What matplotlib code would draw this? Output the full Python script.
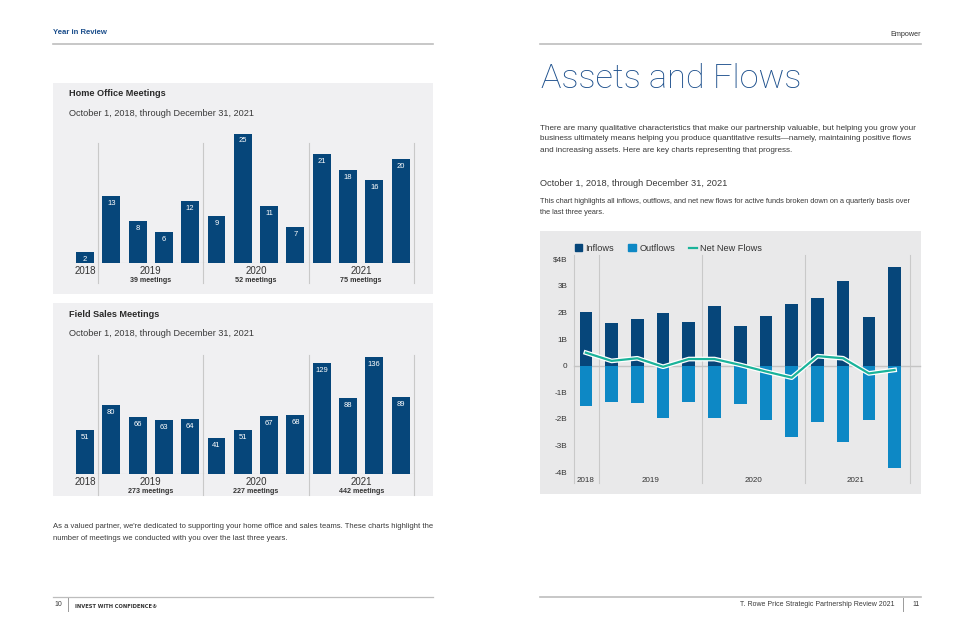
import matplotlib.pyplot as plt
from matplotlib.patches import Rectangle, Patch
from matplotlib.lines import Line2D
import matplotlib.patheffects as pe

plt.rcParams['font.family'] = ['Liberation Sans', 'DejaVu Sans']

# data
quarters = list(range(13))
home_office = [2, 13, 8, 6, 12, 9, 25, 11, 7, 21, 18, 16, 20]
field_sales = [51, 80, 66, 63, 64, 41, 51, 67, 68, 129, 88, 136, 89]
years = ['2018', '2019', '2020', '2021']
year_pos = [0, 2.5, 6.5, 10.5]
home_totals = ['', '39 meetings', '52 meetings', '75 meetings']
field_totals = ['', '273 meetings', '227 meetings', '442 meetings']
separators = [0.5, 4.5, 8.5, 12.5]

inflows = [2.02, 1.59, 1.74, 1.99, 1.63, 2.24, 1.50, 1.88, 2.31, 2.53, 3.20, 1.82, 3.72]
outflows = [-1.50, -1.38, -1.41, -1.95, -1.35, -1.95, -1.44, -2.04, -2.69, -2.13, -2.86, -2.04, -3.83]
net_flows = [0.49, 0.18, 0.28, -0.04, 0.25, 0.25, 0.03, -0.22, -0.45, 0.36, 0.28, -0.29, -0.16]
flow_ticks = [4, 3, 2, 1, 0, -1, -2, -3, -4]
flow_labels = ['$4B', '3B', '2B', '1B', '0', '-1B', '-2B', '-3B', '-4B']

NAVY = '#06467a'
LIGHT_BLUE = '#0d88c5'
TEAL = '#1ab39a'
TITLE_BLUE = '#1c4f8c'
TEXT = '#3a3a3a'
GRID = '#c9c9c9'

W, H = 975, 631
fig = plt.figure(figsize=(W / 100, H / 100), dpi=100)


def box(x0, y0, x1, y1):
    # pixel box (top-left origin) -> figure fractions
    return [x0 / W, 1 - y1 / H, (x1 - x0) / W, (y1 - y0) / H]


def ftext(x, y, s, **kw):
    kw.setdefault('color', TEXT)
    kw.setdefault('va', 'center')
    fig.text(x / W, 1 - y / H, s, **kw)


def panel(x0, y0, x1, y1, color):
    fig.add_artist(Rectangle((x0 / W, 1 - y1 / H), (x1 - x0) / W, (y1 - y0) / H,
                             transform=fig.transFigure, facecolor=color,
                             edgecolor='none', zorder=0))


def hline(x0, x1, y, lw=1.2, color='#bdbdbd'):
    fig.add_artist(Line2D([x0 / W, x1 / W], [1 - y / H, 1 - y / H],
                          transform=fig.transFigure, color=color, lw=lw))


def vline(x, y0, y1, lw=0.7, color='#9a9a9a'):
    fig.add_artist(Line2D([x / W, x / W], [1 - y0 / H, 1 - y1 / H],
                          transform=fig.transFigure, color=color, lw=lw))


# page header / footer
ftext(53, 33, 'Year in Review', fontsize=5.6, fontweight='bold', color=TITLE_BLUE)
ftext(921, 35, 'Empower', fontsize=5.2, ha='right', color='#333333')
hline(53, 433, 44)
hline(540, 921, 44)
hline(53, 433, 597, lw=0.9)
hline(540, 921, 597, lw=1.2)
ftext(54, 605, '10', fontsize=5)
vline(68, 598, 611)
ftext(75, 606, 'INVEST WITH CONFIDENCE®', fontsize=3.7, fontweight='bold', color='#333333',
      family=['DejaVu Sans'])
ftext(895, 605, 'T. Rowe Price Strategic Partnership Review 2021', fontsize=5, ha='right')
vline(903, 598, 611)
ftext(912, 605, '11', fontsize=5)

# left page text
ftext(53, 526, "As a valued partner, we're dedicated to supporting your home office and sales teams. These charts highlight the",
      fontsize=5.5)
ftext(53, 539, 'number of meetings we conducted with you over the last three years.', fontsize=5.5)

# right page text
ftext(541, 79, 'Assets and Flows', fontsize=24.7, color=TITLE_BLUE, fontweight='light',
      family=['Roboto', 'Liberation Sans'])
body = ['There are many qualitative characteristics that make our partnership valuable, but helping you grow your',
        'business ultimately means helping you produce quantitative results\u2014namely, maintaining positive flows',
        'and increasing assets. Here are key charts representing that progress.']
for i, line in enumerate(body):
    ftext(540, 128 + 11 * i, line, fontsize=5.85)
ftext(540, 183, 'October 1, 2018, through December 31, 2021', fontsize=6.65)
ftext(540, 201, 'This chart highlights all inflows, outflows, and net new flows for active funds broken down on a quarterly basis over',
      fontsize=5.3)
ftext(540, 212, 'the last three years.', fontsize=5.3)


def meetings_chart(values, totals, title, top, base, bottom, ylim, vfrac):
    panel(53, top, 433, bottom, '#f0f0f2')
    ftext(69, top + 11, title, fontsize=6.6, fontweight='bold', color='#2a2a2a')
    ftext(69, top + 30, 'October 1, 2018, through December 31, 2021', fontsize=6.6)
    ax = fig.add_axes(box(71.85, vfrac[0], 413.75, base))
    ax.set_facecolor('none')
    ax.bar(quarters, values, width=0.68, color=NAVY, zorder=3)
    for q, v in zip(quarters, values):
        ax.annotate(str(v), (q, v), xytext=(0, -4), textcoords='offset pixels',
                    ha='center', va='top', fontsize=5.5, color='white', zorder=4)
    ax.set_xlim(-0.5, 12.5)
    ax.set_ylim(0, ylim)
    ax.axhline(0, color='#bdbdbd', lw=0.8, zorder=2)
    height = base - vfrac[0]
    for s in separators:
        ax.axvline(s, ymin=-(vfrac[2] - base) / height, ymax=(base - vfrac[1]) / height,
                   color=GRID, lw=0.8, clip_on=False, zorder=1)
    for p, yr, tot in zip(year_pos, years, totals):
        ax.annotate(yr, (p, 0), xytext=(0, -8), textcoords='offset pixels',
                    ha='center', va='center', fontsize=7.0, color='#333333')
        ax.annotate(tot, (p, 0), xytext=(0, -17.5), textcoords='offset pixels',
                    ha='center', va='center', fontsize=5.1, fontweight='bold', color='#333333')
    ax.axis('off')
    return ax


# (axes top, separator top, separator bottom) in pixels
meetings_chart(home_office, home_totals, 'Home Office Meetings', 83, 262.7, 294, 25,
               (133.5, 143, 283))
meetings_chart(field_sales, field_totals, 'Field Sales Meetings', 303, 473.7, 496, 136,
               (356.7, 355, 495))

# assets and flows chart
panel(540, 231, 921, 494, '#e9e9ea')
ax = fig.add_axes(box(574.3, 259.3, 910, 472.1))
ax.set_facecolor('none')
ax.bar(quarters, inflows, width=0.49, color=NAVY, zorder=3, label='Inflows')
ax.bar(quarters, outflows, width=0.49, color=LIGHT_BLUE, zorder=3, label='Outflows')
ax.plot(quarters, net_flows, color=TEAL, lw=1.6, zorder=5, label='Net New Flows',
        path_effects=[pe.Stroke(linewidth=3.4, foreground='white'), pe.Normal()])
ax.set_xlim(-0.45, 12.6)
ax.set_ylim(-4, 4)
ax.axhline(0, xmin=0, xmax=1.03, color='#c4c4c4', lw=1.0, zorder=2, clip_on=False)
for s in [-0.45, 0.5, 4.5, 8.5, 12.6]:
    ax.axvline(s, ymin=-0.051, ymax=1.02, color=GRID, lw=0.8, clip_on=False, zorder=1)
for sp in ax.spines.values():
    sp.set_visible(False)
ax.set_xticks([])
ax.set_yticks(flow_ticks)
ax.set_yticklabels(flow_labels, fontsize=5.9, color='#333333')
ax.tick_params(axis='y', length=0, pad=5)
for p, yr in zip(year_pos, years):
    ax.annotate(yr, (p, -4), xytext=(0, -8.6), textcoords='offset pixels',
                ha='center', va='center', fontsize=5.8, color='#333333')
handles = [Patch(color=NAVY, label='Inflows'),
           Patch(color=LIGHT_BLUE, label='Outflows'),
           Line2D([], [], color=TEAL, lw=1.6, label='Net New Flows')]
ax.legend(handles=handles, ncol=3, frameon=False, loc='center left',
          bbox_to_anchor=(-0.01, 1.05), fontsize=6.6, handlelength=0.8,
          handleheight=0.8, handletextpad=0.4, columnspacing=1.55,
          labelcolor='#333333', borderaxespad=0)

fig.savefig('out.png', dpi=100)
plt.close(fig)
